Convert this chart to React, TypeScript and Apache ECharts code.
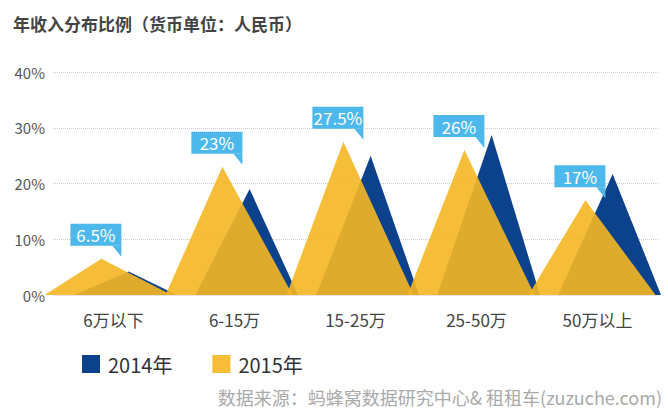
import React, { useEffect, useRef } from "react";
import * as echarts from "echarts";

const categories = ["6万以下", "6-15万", "15-25万", "25-50万", "50万以上"];
const values2014 = [4.2, 19, 25, 28.7, 21.7];
const values2015 = [6.5, 23, 27.5, 26, 17];
const yTicks = [0, 10, 20, 30, 40];
const seriesNames = ["2014年", "2015年"];
const titleText = "年收入分布比例（货币单位：人民币）";
const sourceText = "数据来源：蚂蜂窝数据研究中心& 租租车(zuzuche.com)";

const FONT = '"Noto Sans CJK SC", "Noto Sans", sans-serif';
const BLUE = "#0C428C";
const YELLOW = "#F5B722";
const LABEL_BG = "#4DB8EC";

function triRender(off: number, hwL: number, hwR: number, color: string, opacity: number) {
  return (params: any, api: any) => {
    const idx = api.value(0);
    const v = api.value(1);
    const top = api.coord([idx, v]);
    const bot = api.coord([idx, 0]);
    const bw = api.size([1, 0])[0];
    const px = top[0] + off * bw;
    return {
      type: "polygon",
      shape: {
        points: [
          [px - hwL * bw, bot[1]],
          [px, top[1]],
          [px + hwR * bw, bot[1]],
        ],
      },
      style: { fill: color, opacity },
    };
  };
}

function labelRender(off: number) {
  return (params: any, api: any) => {
    const idx = api.value(0);
    const v = api.value(1);
    const top = api.coord([idx, v]);
    const bw = api.size([1, 0])[0];
    const px = top[0] + off * bw;
    const boxW = 51;
    const boxH = 22;
    const right = px + 20;
    const bottom = top[1] - 13;
    return {
      type: "group",
      children: [
        {
          type: "rect",
          shape: { x: right - boxW, y: bottom - boxH, width: boxW, height: boxH },
          style: { fill: LABEL_BG },
        },
        {
          type: "polygon",
          shape: { points: [[right - 9, bottom], [right, bottom], [right, bottom + 11]] },
          style: { fill: LABEL_BG },
        },
        {
          type: "text",
          x: right - boxW / 2,
          y: bottom - boxH / 2,
          style: {
            text: v + "%",
            fill: "#ffffff",
            fontSize: 17,
            fontFamily: FONT,
            align: "center",
            verticalAlign: "middle",
          },
        },
      ],
    };
  };
}

export default function App() {
  const ref = useRef<HTMLDivElement>(null);
  useEffect(() => {
    if (!ref.current) return;
    const chart = echarts.init(ref.current, null, { renderer: "svg" });
    chart.setOption({
      animation: false,
      backgroundColor: "#ffffff",
      textStyle: { fontFamily: FONT },
      title: {
        text: titleText,
        left: 13,
        top: 15,
        padding: 0,
        textStyle: { fontSize: 17, fontWeight: "bold", color: "#444", fontFamily: FONT },
      },
      legend: {
        data: seriesNames,
        left: 82,
        top: 354,
        padding: 0,
        itemWidth: 18,
        itemHeight: 18,
        itemGap: 40,
        icon: "rect",
        textStyle: { fontSize: 20, color: "#333", fontFamily: FONT, padding: [0, 0, 0, 3] },
      },
      grid: { left: 53, right: 10, top: 72, bottom: 115, containLabel: false },
      xAxis: {
        type: "category",
        data: categories,
        axisLine: { show: true, lineStyle: { color: "#e4e4e4", width: 1 } },
        axisTick: { show: false },
        axisLabel: { fontSize: 17, color: "#444", margin: 16, fontFamily: FONT },
        splitLine: { show: false },
      },
      yAxis: {
        type: "value",
        min: yTicks[0],
        max: yTicks[yTicks.length - 1],
        interval: yTicks[1] - yTicks[0],
        axisLine: { show: false },
        axisTick: { show: false },
        axisLabel: { formatter: "{value}%", fontSize: 15, color: "#555", margin: 8, fontFamily: FONT },
        splitLine: { show: true, lineStyle: { color: "#cccccc", type: "dotted", width: 1 } },
      },
      graphic: [
        {
          type: "text",
          right: 6,
          top: 388,
          style: { text: sourceText, fontSize: 18, fill: "#aaaaaa", fontFamily: FONT },
        },
      ],
      series: [
        {
          name: seriesNames[0],
          type: "custom",
          clip: false,
          itemStyle: { color: BLUE },
          encode: { x: 0, y: 1 },
          data: values2014.map((v, i) => [i, v]),
          renderItem: triRender(0.125, 0.45, 0.4, BLUE, 1),
          z: 2,
        },
        {
          name: seriesNames[1],
          type: "custom",
          clip: false,
          itemStyle: { color: "#F6BE38" },
          encode: { x: 0, y: 1 },
          data: values2015.map((v, i) => [i, v]),
          renderItem: triRender(-0.1, 0.47, 0.58, YELLOW, 0.9),
          z: 3,
        },
        {
          name: "labels",
          type: "custom",
          clip: false,
          encode: { x: 0, y: 1 },
          data: values2015.map((v, i) => [i, v]),
          renderItem: labelRender(-0.1),
          z: 5,
        },
      ],
    });
    return () => chart.dispose();
  }, []);
  return (
    <div
      ref={ref}
      style={{ position: "fixed", left: 0, top: 0, width: 668, height: 410 }}
    />
  );
}
